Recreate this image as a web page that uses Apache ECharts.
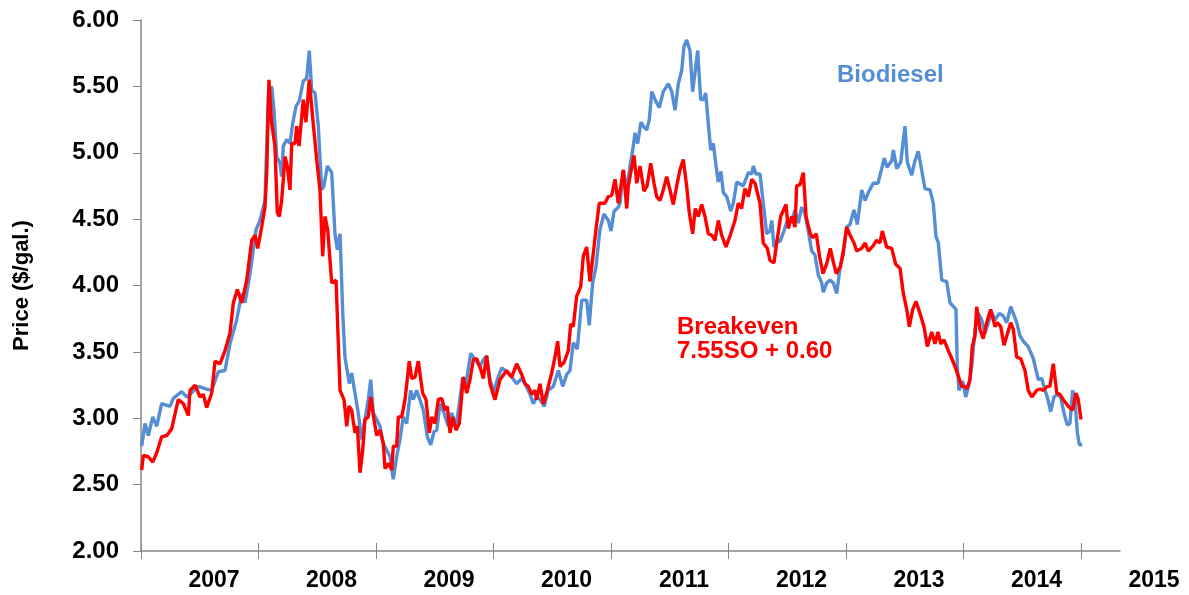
<!DOCTYPE html>
<html>
<head>
<meta charset="utf-8">
<script src="https://cdn.jsdelivr.net/npm/echarts@6/dist/echarts.min.js"></script>
<style>
  html, body { margin: 0; padding: 0; background: #ffffff; }
  #chart { width: 1189px; height: 595px; }
</style>
</head>
<body>
<div id="chart"></div>
<script>
// Year ticks shown under the axis
const yearTicks = [2007, 2008, 2009, 2010, 2011, 2012, 2013, 2014, 2015];

// Biodiesel price (decimal year, $/gal.)
const bioDates = [2007.006,2007.034,2007.062,2007.100,2007.134,2007.176,2007.247,2007.275,2007.346,2007.389,2007.417,2007.488,2007.559,2007.602,2007.658,2007.715,2007.757,2007.814,2007.857,2007.885,2007.928,2007.979,
  2008.013,2008.055,2008.083,2008.112,2008.132,2008.155,2008.183,2008.197,2008.211,2008.240,2008.268,2008.291,2008.319,2008.347,2008.381,2008.410,2008.432,2008.453,2008.481,2008.509,2008.538,2008.557,2008.586,2008.623,2008.651,2008.671,2008.694,2008.717,2008.736,2008.773,2008.793,2008.821,2008.849,2008.878,2008.906,2008.934,2008.955,2008.977,
  2009.006,2009.034,2009.062,2009.091,2009.119,2009.147,2009.176,2009.204,2009.232,2009.261,2009.295,2009.317,2009.346,2009.374,2009.403,2009.437,2009.466,2009.494,2009.517,2009.545,2009.579,2009.615,2009.644,2009.681,2009.709,2009.738,2009.766,2009.806,2009.843,2009.885,2009.913,2009.942,2009.970,
  2010.004,2010.032,2010.070,2010.112,2010.155,2010.197,2010.240,2010.268,2010.311,2010.339,2010.368,2010.396,2010.432,2010.466,2010.509,2010.552,2010.589,2010.623,2010.651,2010.679,2010.713,2010.751,2010.793,2010.815,2010.844,2010.872,2010.906,2010.940,2010.977,
  2011.000,2011.026,2011.062,2011.077,2011.105,2011.134,2011.162,2011.190,2011.204,2011.227,2011.255,2011.275,2011.304,2011.326,2011.347,2011.375,2011.411,2011.445,2011.488,2011.517,2011.545,2011.573,2011.602,2011.621,2011.644,2011.672,2011.695,2011.717,2011.738,2011.763,2011.786,2011.806,2011.828,2011.849,2011.871,2011.894,2011.913,2011.936,2011.956,2011.985,
  2012.019,2012.041,2012.070,2012.126,2012.169,2012.198,2012.211,2012.234,2012.268,2012.296,2012.325,2012.353,2012.368,2012.387,2012.410,2012.438,2012.472,2012.500,2012.538,2012.566,2012.594,2012.623,2012.651,2012.679,2012.708,2012.736,2012.764,2012.793,2012.807,2012.836,2012.864,2012.892,2012.921,2012.949,2012.977,
  2013.006,2013.034,2013.068,2013.096,2013.134,2013.162,2013.190,2013.232,2013.272,2013.304,2013.326,2013.349,2013.389,2013.403,2013.432,2013.466,2013.502,2013.522,2013.559,2013.587,2013.615,2013.644,2013.672,2013.715,2013.743,2013.766,2013.786,2013.815,2013.857,2013.885,2013.936,2013.947,2013.962,2013.993,
  2014.019,2014.049,2014.070,2014.098,2014.126,2014.155,2014.183,2014.211,2014.240,2014.268,2014.305,2014.339,2014.368,2014.402,2014.424,2014.453,2014.481,2014.509,2014.551,2014.594,2014.637,2014.666,2014.694,2014.713,2014.742,2014.770,2014.798,2014.827,2014.855,2014.883,2014.906,2014.929,2014.949,2014.969,2014.986,2015.010];
const bioPrice = [2.79,2.96,2.87,3.01,2.94,3.11,3.09,3.15,3.20,3.16,3.18,3.24,3.22,3.21,3.35,3.36,3.56,3.74,3.94,3.87,4.09,4.42,
  4.49,4.64,5.42,5.50,5.32,4.97,4.92,4.82,5.05,5.10,5.07,5.22,5.35,5.39,5.54,5.56,5.77,5.47,5.45,5.20,4.72,4.75,4.90,4.85,4.39,4.27,4.39,3.79,3.46,3.26,3.34,3.19,3.04,2.84,2.99,3.14,3.29,3.04,
  2.99,2.94,2.81,2.76,2.71,2.54,2.71,2.84,3.01,2.96,3.21,3.14,3.21,3.14,3.06,2.86,2.80,2.90,2.91,3.11,3.04,2.94,3.04,2.94,3.11,3.31,3.26,3.49,3.44,3.39,3.44,3.47,3.29,
  3.20,3.29,3.38,3.35,3.31,3.26,3.30,3.26,3.18,3.11,3.16,3.14,3.09,3.21,3.24,3.36,3.24,3.33,3.36,3.57,3.52,3.89,3.89,3.70,4.02,4.14,4.42,4.54,4.49,
  4.41,4.56,4.59,4.62,4.87,4.72,4.90,5.05,5.15,5.07,5.23,5.20,5.17,5.25,5.46,5.40,5.34,5.46,5.52,5.46,5.32,5.52,5.62,5.80,5.85,5.77,5.46,5.62,5.77,5.40,5.40,5.45,5.22,5.02,5.07,4.90,4.78,4.86,4.70,4.67,
  4.56,4.62,4.78,4.75,4.85,4.84,4.90,4.84,4.84,4.62,4.39,4.41,4.49,4.29,4.34,4.33,4.41,4.49,4.49,4.57,4.47,4.59,4.54,4.41,4.26,4.23,4.08,4.02,3.95,4.02,4.04,4.02,3.94,4.13,4.24,
  4.44,4.46,4.57,4.46,4.72,4.64,4.70,4.77,4.77,4.88,4.96,4.89,4.94,5.02,4.88,4.93,5.20,4.93,4.83,4.94,5.01,4.87,4.73,4.72,4.62,4.37,4.32,4.04,4.03,3.87,3.82,3.39,3.21,3.28,
  3.16,3.26,3.39,3.67,3.79,3.74,3.64,3.72,3.80,3.74,3.79,3.77,3.72,3.84,3.79,3.72,3.62,3.58,3.54,3.45,3.29,3.30,3.21,3.16,3.05,3.16,3.18,3.16,3.04,2.95,2.96,3.21,3.14,2.89,2.80,2.80];

// Breakeven price 7.55 x soybean oil + 0.60 (decimal year, $/gal.)
const beDates = [2007.006,2007.020,2007.062,2007.100,2007.134,2007.176,2007.219,2007.261,2007.317,2007.360,2007.403,2007.417,2007.460,2007.502,2007.530,2007.559,2007.602,2007.630,2007.672,2007.715,2007.757,2007.786,2007.820,2007.857,2007.900,2007.942,2007.970,2007.993,
  2008.027,2008.055,2008.070,2008.089,2008.112,2008.140,2008.160,2008.177,2008.197,2008.226,2008.245,2008.268,2008.283,2008.311,2008.325,2008.345,2008.381,2008.404,2008.432,2008.466,2008.495,2008.523,2008.546,2008.566,2008.589,2008.623,2008.660,2008.694,2008.728,2008.751,2008.770,2008.793,2008.821,2008.841,2008.864,2008.887,2008.906,2008.934,2008.955,2008.983,
  2009.006,2009.034,2009.062,2009.077,2009.105,2009.134,2009.147,2009.176,2009.190,2009.219,2009.247,2009.283,2009.304,2009.332,2009.360,2009.397,2009.426,2009.454,2009.474,2009.502,2009.530,2009.559,2009.587,2009.607,2009.630,2009.653,2009.681,2009.709,2009.743,2009.772,2009.800,2009.828,2009.857,2009.894,2009.913,2009.942,2009.970,
  2010.013,2010.055,2010.112,2010.155,2010.197,2010.240,2010.268,2010.296,2010.325,2010.353,2010.368,2010.396,2010.424,2010.458,2010.495,2010.523,2010.546,2010.566,2010.600,2010.637,2010.657,2010.679,2010.708,2010.742,2010.764,2010.793,2010.821,2010.849,2010.872,2010.900,2010.949,2010.977,
  2011.006,2011.034,2011.062,2011.077,2011.105,2011.134,2011.147,2011.168,2011.196,2011.219,2011.247,2011.281,2011.307,2011.338,2011.366,2011.389,2011.417,2011.445,2011.474,2011.502,2011.530,2011.559,2011.587,2011.615,2011.644,2011.666,2011.695,2011.717,2011.743,2011.772,2011.800,2011.828,2011.857,2011.885,2011.913,2011.942,2011.979,
  2012.019,2012.055,2012.083,2012.112,2012.140,2012.169,2012.198,2012.226,2012.268,2012.296,2012.330,2012.353,2012.387,2012.410,2012.444,2012.489,2012.509,2012.538,2012.566,2012.580,2012.609,2012.637,2012.660,2012.696,2012.719,2012.747,2012.775,2012.804,2012.838,2012.866,2012.894,2012.917,2012.951,2012.974,
  2013.006,2013.034,2013.068,2013.091,2013.134,2013.162,2013.190,2013.232,2013.260,2013.289,2013.309,2013.346,2013.389,2013.423,2013.460,2013.488,2013.517,2013.539,2013.568,2013.596,2013.630,2013.664,2013.692,2013.730,2013.757,2013.783,2013.806,2013.834,2013.871,2013.900,2013.928,2013.947,2013.985,
  2014.013,2014.028,2014.055,2014.075,2014.098,2014.112,2014.140,2014.168,2014.197,2014.231,2014.268,2014.288,2014.317,2014.345,2014.368,2014.402,2014.424,2014.453,2014.487,2014.523,2014.551,2014.581,2014.623,2014.651,2014.679,2014.713,2014.736,2014.764,2014.794,2014.821,2014.849,2014.892,2014.929,2014.957,2014.977,2015.000];
const bePrice = [2.61,2.72,2.71,2.67,2.74,2.86,2.87,2.92,3.14,3.11,3.02,3.21,3.25,3.16,3.18,3.08,3.19,3.43,3.41,3.51,3.64,3.87,3.97,3.87,4.04,4.34,4.38,4.28,
  4.44,4.59,4.85,5.55,5.22,5.05,4.55,4.52,4.64,4.97,4.90,4.72,5.07,5.07,5.20,5.05,5.40,5.23,5.55,5.22,4.95,4.72,4.22,4.52,4.42,4.02,4.04,3.21,3.14,2.94,3.09,3.06,2.89,2.94,2.59,2.76,2.99,3.01,3.16,2.99,
  2.87,2.91,2.81,2.62,2.66,2.61,2.79,2.79,3.01,3.01,3.14,3.43,3.30,3.31,3.43,3.19,3.14,2.89,3.01,2.96,3.14,3.15,3.06,3.09,2.89,3.01,2.91,2.96,3.31,3.19,3.29,3.44,3.45,3.36,3.30,3.47,3.26,
  3.14,3.29,3.36,3.31,3.41,3.33,3.26,3.24,3.18,3.21,3.14,3.26,3.11,3.21,3.34,3.46,3.58,3.39,3.42,3.51,3.71,3.69,3.92,3.99,4.22,4.29,4.03,4.24,4.42,4.62,4.62,4.67,
  4.68,4.80,4.62,4.62,4.87,4.58,4.75,4.85,4.98,4.77,4.90,4.71,4.75,4.92,4.77,4.67,4.64,4.72,4.82,4.72,4.61,4.75,4.87,4.95,4.75,4.55,4.39,4.58,4.52,4.61,4.52,4.39,4.38,4.34,4.49,4.38,4.29,
  4.39,4.49,4.62,4.58,4.73,4.67,4.80,4.77,4.62,4.32,4.28,4.19,4.17,4.32,4.52,4.61,4.43,4.52,4.44,4.75,4.76,4.85,4.52,4.39,4.36,4.39,4.22,4.09,4.17,4.28,4.17,4.09,4.14,4.24,
  4.44,4.38,4.32,4.26,4.28,4.32,4.26,4.30,4.34,4.32,4.41,4.29,4.28,4.16,4.13,3.94,3.82,3.69,3.82,3.88,3.79,3.69,3.54,3.65,3.56,3.65,3.56,3.59,3.51,3.45,3.39,3.34,3.24,
  3.24,3.22,3.29,3.54,3.62,3.84,3.67,3.60,3.72,3.82,3.69,3.72,3.69,3.55,3.62,3.72,3.67,3.46,3.45,3.36,3.21,3.16,3.21,3.22,3.21,3.24,3.24,3.41,3.19,3.18,3.14,3.09,3.06,3.19,3.14,2.99];

const chartDom = document.getElementById('chart');
const myChart = echarts.init(chartDom, null, { renderer: 'canvas' });

const font = '"Liberation Sans", Arial, sans-serif';
const axisGray = '#868686';

//Pair dates with prices for the value x axis
function zipSeries(dates, prices) {
    return dates.map((d, i) => [d, prices[i]]);
}

const option = {
    animation: false,
    backgroundColor: '#ffffff',
    grid: {
        left: 141,
        right: 69,
        top: 20,
        bottom: 44
    },
    xAxis: [
        {
            type: 'value',
            min: 2007,
            max: 2015.332,
            axisLine: { show: true, lineStyle: { color: axisGray, width: 1.5 } },
            axisTick: {
                show: true,
                customValues: yearTicks,
                length: 8,
                lineStyle: { color: axisGray, width: 1 }
            },
            splitLine: { show: false },
            axisLabel: {
                customValues: yearTicks,
                formatter: v => String(Math.round(v)),
                fontFamily: font,
                fontWeight: 'bold',
                fontSize: 23,
                color: '#000000',
                margin: 18,
                align: 'center',
                padding: [0, 0, 0, 146]
            }
        },
        {
            // second copy of the axis only to draw the tick half above the line
            type: 'value',
            position: 'bottom',
            min: 2007,
            max: 2015.332,
            axisLine: { show: false },
            axisTick: {
                show: true,
                inside: true,
                customValues: yearTicks,
                length: 8,
                lineStyle: { color: axisGray, width: 1 }
            },
            axisLabel: { show: false },
            splitLine: { show: false }
        }
    ],
    yAxis: {
        type: 'value',
        min: 2,
        max: 6,
        interval: 0.5,
        name: 'Price ($/gal.)',
        nameLocation: 'middle',
        nameGap: 108,
        nameRotate: 90,
        nameTextStyle: {
            fontFamily: font,
            fontWeight: 'bold',
            fontSize: 22,
            color: '#000000'
        },
        axisLine: { show: true, lineStyle: { color: axisGray, width: 1.5 } },
        axisTick: { show: true, length: 8, lineStyle: { color: axisGray, width: 1 } },
        splitLine: { show: false },
        axisLabel: {
            formatter: v => v.toFixed(2),
            fontFamily: font,
            fontWeight: 'bold',
            fontSize: 24,
            color: '#000000',
            margin: 22
        }
    },
    series: [
        {
            name: 'Biodiesel',
            type: 'line',
            data: zipSeries(bioDates, bioPrice),
            showSymbol: false,
            symbol: 'none',
            lineStyle: { color: '#558ED5', width: 3.4 },
            z: 2
        },
        {
            name: 'Breakeven',
            type: 'line',
            data: zipSeries(beDates, bePrice),
            showSymbol: false,
            symbol: 'none',
            lineStyle: { color: '#FF0000', width: 3.4 },
            z: 3
        }
    ],
    graphic: [
        {
            type: 'text',
            left: 837,
            top: 63,
            style: {
                text: 'Biodiesel',
                font: 'bold 24px "Liberation Sans", Arial, sans-serif',
                fill: '#558ED5'
            }
        },
        {
            type: 'text',
            left: 677,
            top: 315,
            style: {
                text: 'Breakeven\n7.55SO + 0.60',
                font: 'bold 24px "Liberation Sans", Arial, sans-serif',
                lineHeight: 24,
                fill: '#FF0000'
            }
        }
    ]
};

option && myChart.setOption(option);
</script>
</body>
</html>
